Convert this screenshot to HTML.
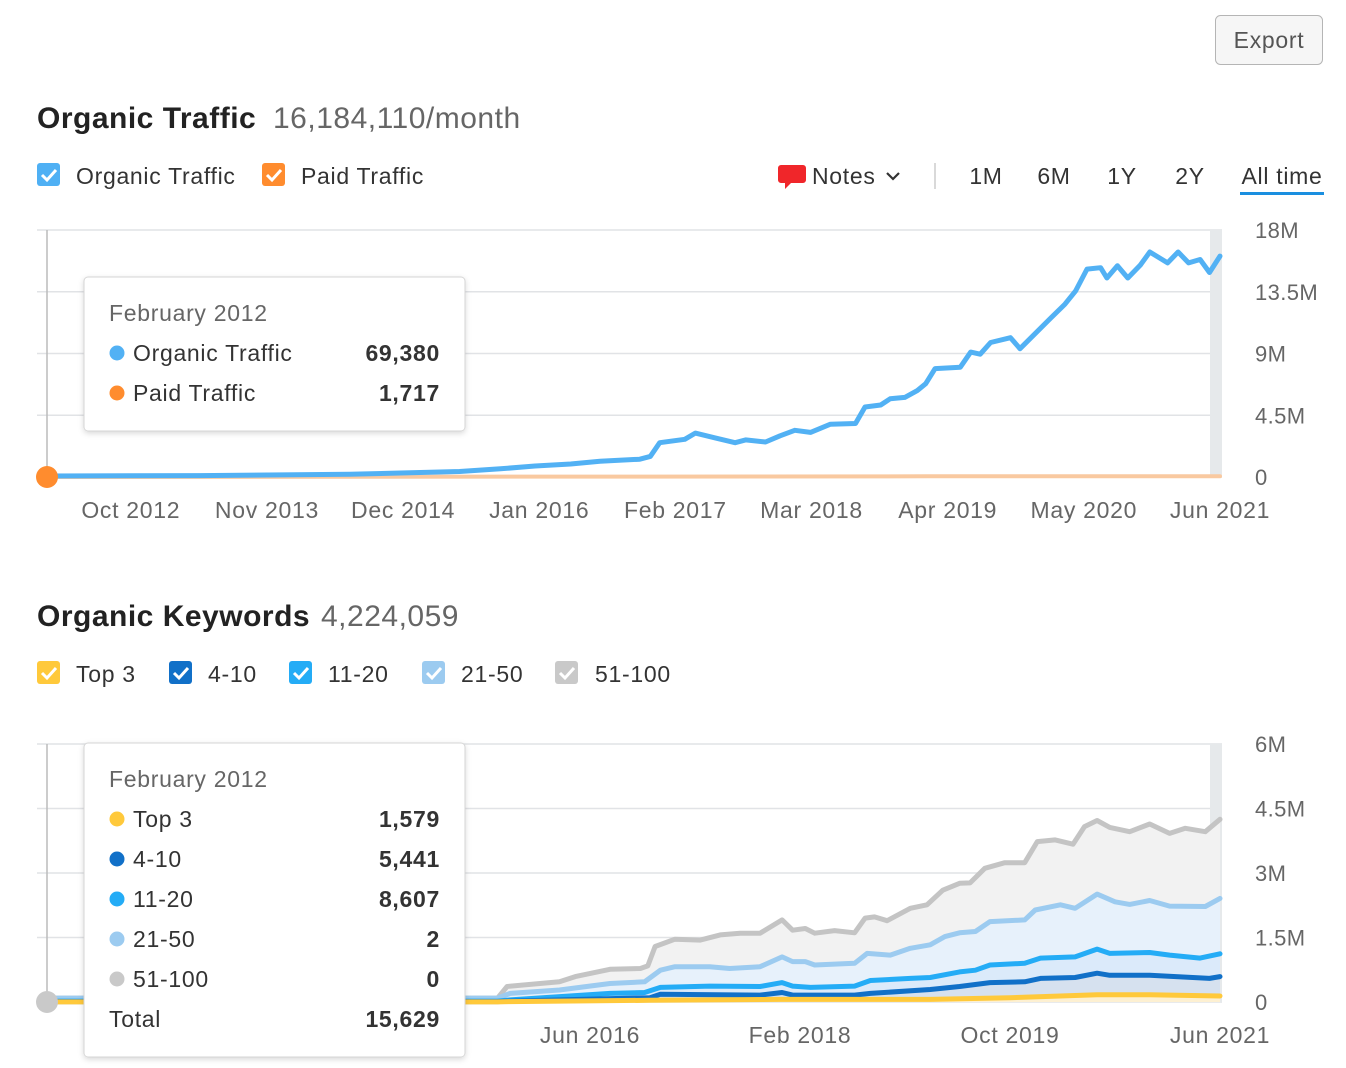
<!DOCTYPE html>
<html><head><meta charset="utf-8">
<style>
html,body{margin:0;padding:0;background:#fff;}
svg{display:block;font-family:"Liberation Sans",sans-serif;}
text[font-size="23"]{letter-spacing:0.7px;}
text[font-size="30"]{letter-spacing:0.5px;}
text[font-size="22"]{letter-spacing:0.4px;}
</style></head>
<body>
<svg id="page" width="1346" height="1068" viewBox="0 0 1346 1068" xmlns="http://www.w3.org/2000/svg">
<defs>
<filter id="sh" x="-10%" y="-10%" width="120%" height="130%"><feDropShadow dx="0" dy="2" stdDeviation="3" flood-color="#000" flood-opacity="0.15"/></filter>
</defs>
<g>
<rect x="1215.5" y="15.5" width="107" height="49" rx="5" fill="#f6f6f6" stroke="#b5b5b5"/>
<text x="1269" y="48" text-anchor="middle" font-size="23" fill="#555">Export</text>
</g>
<text x="37" y="128" font-size="30" font-weight="bold" fill="#222">Organic Traffic</text>
<text x="273" y="128" font-size="30" fill="#666">16,184,110/month</text>
<g>
<rect x="37" y="163" width="23" height="23" rx="3" fill="#4fb0f4"/>
<path d="M42 175 l5 5 l9 -10" stroke="#fff" stroke-width="3" fill="none"/>
<text x="76" y="184" font-size="23" fill="#333">Organic Traffic</text></g>
<g>
<rect x="262" y="163" width="23" height="23" rx="3" fill="#ff8c2e"/>
<path d="M267 175 l5 5 l9 -10" stroke="#fff" stroke-width="3" fill="none"/>
<text x="301" y="184" font-size="23" fill="#333">Paid Traffic</text></g>
<g>
<path d="M781 165 h22 a3 3 0 0 1 3 3 v12 a3 3 0 0 1 -3 3 h-12 l-6 6 v-6 h-4 a3 3 0 0 1 -3 -3 v-12 a3 3 0 0 1 3 -3z" fill="#f0262a"/>
<text x="812" y="184" font-size="23" fill="#333">Notes</text>
<path d="M887 173 l6 6 l6 -6" stroke="#333" stroke-width="2.2" fill="none"/></g>
<line x1="935" y1="163" x2="935" y2="189" stroke="#ccc" stroke-width="1.5"/>
<text x="986" y="184" font-size="23" fill="#333" text-anchor="middle">1M</text>
<text x="1054" y="184" font-size="23" fill="#333" text-anchor="middle">6M</text>
<text x="1122" y="184" font-size="23" fill="#333" text-anchor="middle">1Y</text>
<text x="1190" y="184" font-size="23" fill="#333" text-anchor="middle">2Y</text>
<text x="1282" y="184" font-size="23" fill="#333" text-anchor="middle">All time</text>
<rect x="1240" y="192" width="84" height="3" fill="#1a8fe0"/>
<g id="chart1"></g>
<text x="37" y="626" font-size="30" font-weight="bold" fill="#222">Organic Keywords</text>
<text x="321" y="626" font-size="30" fill="#666">4,224,059</text>
<g><rect x="37" y="661" width="23" height="23" rx="3" fill="#ffc93b"/><path d="M42 673 l5 5 l9 -10" stroke="#fff" stroke-width="3" fill="none"/><text x="76" y="682" font-size="23" fill="#333">Top 3</text></g>
<g><rect x="169" y="661" width="23" height="23" rx="3" fill="#1170c8"/><path d="M174 673 l5 5 l9 -10" stroke="#fff" stroke-width="3" fill="none"/><text x="208" y="682" font-size="23" fill="#333">4-10</text></g>
<g><rect x="289" y="661" width="23" height="23" rx="3" fill="#24acf6"/><path d="M294 673 l5 5 l9 -10" stroke="#fff" stroke-width="3" fill="none"/><text x="328" y="682" font-size="23" fill="#333">11-20</text></g>
<g><rect x="422" y="661" width="23" height="23" rx="3" fill="#9ccbf0"/><path d="M427 673 l5 5 l9 -10" stroke="#fff" stroke-width="3" fill="none"/><text x="461" y="682" font-size="23" fill="#333">21-50</text></g>
<g><rect x="555" y="661" width="23" height="23" rx="3" fill="#c9c9c9"/><path d="M560 673 l5 5 l9 -10" stroke="#fff" stroke-width="3" fill="none"/><text x="595" y="682" font-size="23" fill="#333">51-100</text></g>
<g id="chart2"></g>
</svg>
<script>
const trafficMonths = [0,14.6,28.9,39.4,43.3,46.6,50.0,52.8,56.6,57.6,58.5,60.9,61.9,63.8,65.7,66.7,68.6,70.0,71.4,72.9,74.8,77.2,78.1,79.6,80.5,81.9,83.1,83.9,84.8,87.2,88.2,89.1,90.1,92.0,92.9,95.8,97.2,98.2,99.3,100.6,101.2,102.2,103.2,104.4,105.3,107.0,108.0,109.0,110.1,111.0,112];
const organicTraffic = [.07,.1,.2,.4,.6,.8,.95,1.15,1.3,1.5,2.5,2.75,3.2,2.85,2.5,2.7,2.55,3.0,3.4,3.25,3.85,3.9,5.1,5.25,5.7,5.8,6.3,6.8,7.9,8.0,9.1,8.95,9.8,10.15,9.35,11.55,12.6,13.55,15.15,15.25,14.5,15.4,14.5,15.45,16.4,15.6,16.4,15.6,15.85,14.9,16.1];
const paidMonths = [0,56,84,112];
const paidTraffic = [.0017,.03,.05,.06];
const trafficYTicks = [0,4.5,9,13.5,18];
const trafficYLabels = ["0","4.5M","9M","13.5M","18M"];
const trafficXTicks = [8,21,34,47,60,73,86,99,112];
const trafficXLabels = ["Oct 2012","Nov 2013","Dec 2014","Jan 2016","Feb 2017","Mar 2018","Apr 2019","May 2020","Jun 2021"];

const kwTop100Months = [0,43.2,44.1,49.1,50.6,53.9,56.8,57.5,58.2,60.1,62.5,64.4,66.3,68.2,70.3,71.3,72.5,73.4,75.3,77.2,78.2,79.1,80.3,82.5,84.1,85.6,87.2,88.2,89.6,91.5,93.4,94.6,96.3,98.0,99.1,100.3,101.5,103.4,105.3,107.2,108.7,110.6,112];
const kwTop100 = [.09,.09,.36,.47,.59,.76,.78,.84,1.29,1.46,1.44,1.56,1.6,1.6,1.91,1.67,1.71,1.6,1.66,1.61,1.95,1.98,1.89,2.18,2.26,2.6,2.76,2.77,3.11,3.24,3.24,3.73,3.77,3.67,4.08,4.22,4.06,3.96,4.14,3.92,4.04,3.96,4.25];
const kwTop50Months = [0,43.2,44.4,49.1,53.9,57.2,58.7,60.1,63.4,65.3,68.2,70.3,71.3,72.5,73.4,77.2,78.4,80.6,82.5,84.4,85.8,87.2,88.7,90.1,93.4,94.4,96.8,98.2,100.3,102.0,103.4,105.3,107.2,110.6,112];
const kwTop50 = [.09,.09,.2,.28,.43,.47,.74,.82,.82,.78,.82,1.05,.94,.94,.86,.9,1.13,1.09,1.25,1.33,1.52,1.61,1.64,1.87,1.91,2.14,2.26,2.18,2.51,2.33,2.27,2.36,2.23,2.22,2.41];
const kwTop20Months = [0,43.2,44.4,53.9,57.2,58.7,63.4,68.2,70.3,71.3,73.0,77.2,78.7,82.5,84.4,87.2,88.7,90.1,93.4,94.9,98.2,100.3,101.5,105.3,107.2,110.1,112];
const kwTop20 = [.02,.02,.05,.2,.22,.34,.37,.36,.45,.37,.34,.37,.5,.55,.57,.7,.74,.86,.9,1.02,1.05,1.23,1.13,1.15,1.09,1.02,1.12];
const kwTop10Months = [0,43.2,44.4,57.7,58.7,68.2,70.3,71.3,77.2,78.7,84.4,87.2,90.1,93.4,94.9,98.2,100.3,101.5,105.3,111.0,112];
const kwTop10 = [.01,.01,.02,.1,.18,.16,.22,.16,.16,.2,.29,.36,.45,.47,.55,.57,.67,.62,.62,.55,.59];
const kwTop3Months = [0,43.2,44.4,57.7,70.1,84.4,92.0,100.3,105.3,112];
const kwTop3 = [.002,.002,.01,.04,.06,.06,.1,.17,.17,.14];
const kwYTicks = [0,1.5,3,4.5,6];
const kwYLabels = ["0","1.5M","3M","4.5M","6M"];
const kwXTicks = [52,72,92,112];
const kwXLabels = ["Jun 2016","Feb 2018","Oct 2019","Jun 2021"];

const NS = "http://www.w3.org/2000/svg";
function mk(parent, tag, attrs){const e=document.createElementNS(NS,tag);for(const k in attrs)e.setAttribute(k,attrs[k]);parent.appendChild(e);return e;}

function drawChart(g, cfg){
  const X = m => cfg.x0 + (m/112)*(cfg.x1-cfg.x0);
  const Y = v => cfg.y0 - (v/cfg.max)*(cfg.y0-cfg.yTop);
  cfg.yTicks.forEach((t,i)=>{
    const l=mk(g,'line',{x1:37,x2:1222,y1:Y(t),y2:Y(t),stroke:'#e1e3e6','stroke-width':1.5});
    
    
    const tx=mk(g,'text',{x:1255,y:Y(t)+8,'font-size':22,fill:'#666'});
    tx.textContent=cfg.yLabels[i];
    
    
  });
  const band=mk(g,'rect',{x:1210,y:cfg.yTop,width:12,height:cfg.y0-cfg.yTop,fill:'#e6e9eb'});
  
  
  const vl=mk(g,'line',{x1:47,x2:47,y1:cfg.yTop,y2:cfg.y0,stroke:'#bbb','stroke-width':1.5});
  
  
  cfg.series.forEach(s=>{
    let d=s.months.map((m,i)=>(i?'L':'M')+X(m).toFixed(1)+' '+Y(s.values[i]).toFixed(1)).join(' ');
    if(s.fill){
      const a=mk(g,'path',{d:d+` L${X(112)} ${cfg.y0} L${X(0)} ${cfg.y0} Z`,fill:s.fill});
      
      
    }
    const p=mk(g,'path',{d:d,fill:'none',stroke:s.color,'stroke-width':s.w||5,'stroke-linejoin':'round','stroke-linecap':'round'});
    
    
  });
  cfg.xTicks.forEach((t,i)=>{
    const tx=mk(g,'text',{x:X(t),y:cfg.y0+41,'font-size':23,fill:'#666','text-anchor':'middle'});
    tx.textContent=cfg.xLabels[i];
    
    
  });
  const dot=mk(g,'circle',{cx:47,cy:cfg.y0,r:11,fill:cfg.dot});
  
  
}

function tooltip(g, x, y, w, h, title, rows){
  const t=mk(g,'g',{});
  
  
  mk(t,'rect',{x:x,y:y,width:w,height:h,rx:4,fill:'#fff',stroke:'#d6d6d6',filter:'url(#sh)'});
  const tt=mk(t,'text',{x:x+25,y:y+44,'font-size':23,fill:'#666'}); tt.textContent=title;
  rows.forEach((r,i)=>{
    const yy=y+84+i*40;
    if(r[2]) mk(t,'circle',{cx:x+33,cy:yy-8,r:7.5,fill:r[2]});
    const a=mk(t,'text',{x:r[2]?x+49:x+25,y:yy,'font-size':23,fill:'#333'}); a.textContent=r[0];
    const b=mk(t,'text',{x:x+356,y:yy,'font-size':23,'font-weight':'bold',fill:'#333','text-anchor':'end'}); b.textContent=r[1];
  });
}

const g1=document.getElementById('chart1');
drawChart(g1,{x0:47,x1:1220,y0:477,yTop:230,max:18,yTicks:trafficYTicks,yLabels:trafficYLabels,xTicks:trafficXTicks,xLabels:trafficXLabels,dot:'#ff8c2e',
  series:[{name:'paid-traffic',months:paidMonths,values:paidTraffic,color:'#f9c9a0',w:4},
          {name:'organic-traffic',months:trafficMonths,values:organicTraffic,color:'#52b1f4',w:5}]});
tooltip(g1,84,277,381,154,'February 2012',[['Organic Traffic','69,380','#52b1f4'],['Paid Traffic','1,717','#ff8c2e']]);

const g2=document.getElementById('chart2');
drawChart(g2,{x0:44,x1:1220,y0:1002,yTop:744,max:6,yTicks:kwYTicks,yLabels:kwYLabels,xTicks:kwXTicks,xLabels:kwXLabels,dot:'#c9c9c9',
  series:[{name:'keywords-51-100',months:kwTop100Months,values:kwTop100,color:'#c4c4c4',fill:'#f2f2f2'},
          {name:'keywords-21-50',months:kwTop50Months,values:kwTop50,color:'#9ccbf0',fill:'#e7f1fb'},
          {name:'keywords-11-20',months:kwTop20Months,values:kwTop20,color:'#24acf6',fill:'#dbeafa'},
          {name:'keywords-4-10',months:kwTop10Months,values:kwTop10,color:'#1170c8',fill:'#d6e1ef'},
          {name:'keywords-top3',months:kwTop3Months,values:kwTop3,color:'#ffc93b',fill:'#fdf0d2'}]});
tooltip(g2,84,743,381,314,'February 2012',[['Top 3','1,579','#ffc93b'],['4-10','5,441','#1170c8'],['11-20','8,607','#24acf6'],['21-50','2','#9ccbf0'],['51-100','0','#c9c9c9'],['Total','15,629',null]]);
</script>
</body></html>
